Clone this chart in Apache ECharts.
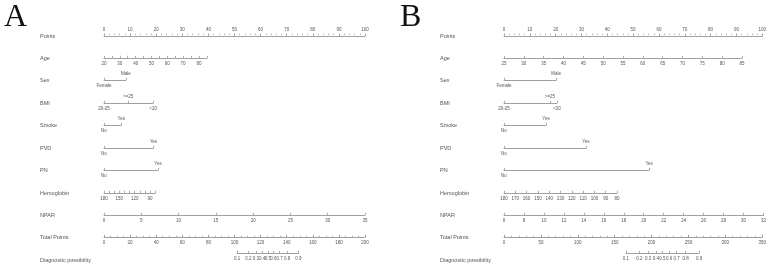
<!DOCTYPE html>
<html>
<head>
<meta charset="utf-8">
<title>Nomogram</title>
<script src="https://cdn.jsdelivr.net/npm/echarts@6/dist/echarts.min.js"></script>
<style>
    html, body { margin: 0; padding: 0; background: #fff; }
    #chart { width: 769px; height: 269px; }
</style>
</head>
<body>
<div id="chart"></div>
<script>
    /* row names */
    var rowNames = ['Points', 'Age', 'Sex', 'BMI', 'Smoke', 'PVD', 'PN', 'Hemoglobin', 'NPAR', 'Total Points', 'Diagnostic possibility'];
    var panelNames = ['A', 'B'];

    /* shared levels */
    var sexLevels = ['Female', 'Male'];
    var sexUp = [false, true];
    var bmiLevels = ['20-25', '>=25', '<20'];
    var bmiUp = [false, true, false];
    var binLevels = ['No', 'Yes'];
    var binUp = [false, true];
    var probLabels = ['0.1', '0.2', '0.3', '0.4', '0.5', '0.6', '0.7', '0.8', '0.9'];
    var pointLabels = [0, 10, 20, 30, 40, 50, 60, 70, 80, 90, 100];
    var hbEnd = [180, 80];
    var hbTicks = [180, 170, 160, 150, 140, 130, 120, 110, 100, 90, 80];

    /* panel A */
    var ageEndA = [20, 85];
    var ageEndPtsA = [0, 39.4];
    var ageLabelsA = [20, 30, 40, 50, 60, 70, 80];
    var ageTicksA = [20, 25, 30, 35, 40, 45, 50, 55, 60, 65, 70, 75, 80, 85];
    var sexPtsA = [0, 8.4];
    var bmiPtsA = [0, 9.2, 18.8];
    var smokePtsA = [0, 6.6];
    var pvdPtsA = [0, 18.9];
    var pnPtsA = [0, 20.7];
    var hbEndPtsA = [0, 19.6];
    var hbLabelsA = [180, 150, 120, 90];
    var nparEndA = [0, 35];
    var nparLabelsA = [0, 5, 10, 15, 20, 25, 30, 35];
    var totalMaxA = 200;
    var totalLabelsA = [0, 20, 40, 60, 80, 100, 120, 140, 160, 180, 200];
    var probTotalA = [102, 110.7, 116.4, 121.2, 125.5, 129.8, 134.6, 140.3, 149];

    /* panel B */
    var ageEndB = [25, 85];
    var ageEndPtsB = [0, 91.2];
    var ageLabelsB = [25, 30, 35, 40, 45, 50, 55, 60, 65, 70, 75, 80, 85];
    var sexPtsB = [0, 20];
    var bmiPtsB = [0, 17.6, 20.3];
    var smokePtsB = [0, 16.1];
    var pvdPtsB = [0, 31.4];
    var pnPtsB = [0, 55.6];
    var hbEndPtsB = [0, 43.3];
    var hbLabelsB = [180, 170, 160, 150, 140, 130, 120, 110, 100, 90, 80];
    var nparEndB = [6, 32];
    var nparLabelsB = [6, 8, 10, 12, 14, 16, 18, 20, 22, 24, 26, 28, 30, 32];
    var totalMaxB = 350;
    var totalLabelsB = [0, 50, 100, 150, 200, 250, 300, 350];
    var probTotalB = [163.6, 181.6, 193.2, 203.5, 212.5, 221.5, 231.4, 243.4, 261.5];

    /* layout */
    var X0 = [104, 504];
    var AXIS_W = 261;
    var rowY = [36, 58, 80, 103, 125, 148, 170, 193, 215, 237, 253];
    var labelY = [36, 58, 80, 103, 125, 148, 170, 193, 215, 237, 260];
    var labelX = [40, 440];
    var letterX = [4, 400];
    var LINE = '#888';
    var TEXT = '#555';
    var TICK_FONT = 4.5;

    function seq(a, b, step) {
        var out = [];
        for (var v = a; v <= b + 1e-9; v += step) out.push(+v.toFixed(4));
        return out;
    }

    var rowsA = [
        {kind: 'points', labels: pointLabels, minor: seq(0, 100, 2)},
        {kind: 'num', end: ageEndA, endPts: ageEndPtsA, labels: ageLabelsA, ticks: ageTicksA},
        {kind: 'cat', levels: sexLevels, pts: sexPtsA, up: sexUp},
        {kind: 'cat', levels: bmiLevels, pts: bmiPtsA, up: bmiUp},
        {kind: 'cat', levels: binLevels, pts: smokePtsA, up: binUp},
        {kind: 'cat', levels: binLevels, pts: pvdPtsA, up: binUp},
        {kind: 'cat', levels: binLevels, pts: pnPtsA, up: binUp},
        {kind: 'num', end: hbEnd, endPts: hbEndPtsA, labels: hbLabelsA, ticks: hbTicks},
        {kind: 'num', end: nparEndA, endPts: [0, 100], labels: nparLabelsA, ticks: nparLabelsA},
        {kind: 'total', max: totalMaxA, labels: totalLabelsA, minor: seq(0, totalMaxA, 5)},
        {kind: 'prob', max: totalMaxA, tp: probTotalA, labels: probLabels}
    ];
    var rowsB = [
        {kind: 'points', labels: pointLabels, minor: seq(0, 100, 2)},
        {kind: 'num', end: ageEndB, endPts: ageEndPtsB, labels: ageLabelsB, ticks: ageLabelsB},
        {kind: 'cat', levels: sexLevels, pts: sexPtsB, up: sexUp},
        {kind: 'cat', levels: bmiLevels, pts: bmiPtsB, up: bmiUp},
        {kind: 'cat', levels: binLevels, pts: smokePtsB, up: binUp},
        {kind: 'cat', levels: binLevels, pts: pvdPtsB, up: binUp},
        {kind: 'cat', levels: binLevels, pts: pnPtsB, up: binUp},
        {kind: 'num', end: hbEnd, endPts: hbEndPtsB, labels: hbLabelsB, ticks: hbTicks},
        {kind: 'num', end: nparEndB, endPts: [0, 100], labels: nparLabelsB, ticks: nparLabelsB},
        {kind: 'total', max: totalMaxB, labels: totalLabelsB, minor: seq(0, totalMaxB, 10)},
        {kind: 'prob', max: totalMaxB, tp: probTotalB, labels: probLabels}
    ];

    var grids = [], xAxes = [], yAxes = [], graphics = [];

    function addGrid(left, width, y) {
        grids.push({left: left, width: width, top: y - 1, height: 1});
        yAxes.push({type: 'value', gridIndex: grids.length - 1, show: false});
        return grids.length - 1;
    }

    function axis(g, min, max, o) {
        xAxes.push({
            type: 'value', gridIndex: g, min: min, max: max,
            inverse: !!o.inverse, position: o.position || 'bottom',
            splitLine: {show: false},
            axisLine: {show: o.line !== false, lineStyle: {color: LINE, width: 0.8}},
            axisTick: {
                show: !!o.ticks, inside: o.position !== 'top', length: o.tickLen || 2.2,
                customValues: o.ticks || [], lineStyle: {color: LINE, width: 0.7}
            },
            axisLabel: {
                show: !!o.labels, customValues: o.labels || [],
                formatter: o.formatter || function (v) { return String(v); },
                fontSize: TICK_FONT, color: TEXT, margin: 3,
                fontFamily: 'Liberation Sans, Arial, sans-serif',
                showMinLabel: true, showMaxLabel: true
            }
        });
    }

    function lookup(values, names) {
        return function (v) {
            for (var i = 0; i < values.length; i++) {
                if (Math.abs(values[i] - v) < 1e-6) return names[i];
            }
            return '';
        };
    }

    function buildPanel(p, rows) {
        var x0 = X0[p], k = AXIS_W / 100;
        graphics.push({
            type: 'text', left: letterX[p], top: 2,
            style: {text: panelNames[p], fontSize: 32, fontFamily: 'Liberation Serif, serif', fill: '#111'}
        });
        rows.forEach(function (r, i) {
            var y = rowY[i];
            graphics.push({
                type: 'text', x: labelX[p], y: labelY[i],
                style: {text: rowNames[i], fontSize: 5.5, fill: TEXT, verticalAlign: 'middle',
                    fontFamily: 'Liberation Sans, Arial, sans-serif'}
            });
            var g;
            if (r.kind === 'points') {
                g = addGrid(x0, AXIS_W, y);
                axis(g, 0, 100, {position: 'top', ticks: r.labels, labels: r.labels, tickLen: 2.2});
                axis(g, 0, 100, {position: 'top', line: false, ticks: r.minor, tickLen: 1.2});
            } else if (r.kind === 'num') {
                var lo = Math.min(r.endPts[0], r.endPts[1]), hi = Math.max(r.endPts[0], r.endPts[1]);
                g = addGrid(x0 + lo * k, (hi - lo) * k, y);
                axis(g, Math.min(r.end[0], r.end[1]), Math.max(r.end[0], r.end[1]), {
                    inverse: r.end[0] > r.end[1], ticks: r.ticks, labels: r.labels
                });
            } else if (r.kind === 'cat') {
                var mx = Math.max.apply(null, r.pts);
                g = addGrid(x0, mx * k, y);
                var down = r.pts.filter(function (v, j) { return !r.up[j]; });
                var up = r.pts.filter(function (v, j) { return r.up[j]; });
                var fmt = lookup(r.pts, r.levels);
                axis(g, 0, mx, {ticks: r.pts, labels: down, formatter: fmt});
                axis(g, 0, mx, {position: 'top', line: false, labels: up, formatter: fmt});
            } else if (r.kind === 'total') {
                g = addGrid(x0, AXIS_W, y);
                axis(g, 0, r.max, {ticks: r.labels, labels: r.labels});
                axis(g, 0, r.max, {line: false, ticks: r.minor, tickLen: 1.2});
            } else if (r.kind === 'prob') {
                var kt = AXIS_W / r.max, t0 = r.tp[0], t1 = r.tp[r.tp.length - 1];
                g = addGrid(x0 + t0 * kt, (t1 - t0) * kt, y);
                axis(g, t0, t1, {ticks: r.tp, labels: r.tp, formatter: lookup(r.tp, r.labels)});
            }
        });
    }

    buildPanel(0, rowsA);
    buildPanel(1, rowsB);

    var chart = echarts.init(document.getElementById('chart'), null, {renderer: 'canvas'});
    chart.setOption({
        backgroundColor: '#fff',
        animation: false,
        grid: grids,
        xAxis: xAxes,
        yAxis: yAxes,
        graphic: graphics,
        series: []
    });
</script>
</body>
</html>
